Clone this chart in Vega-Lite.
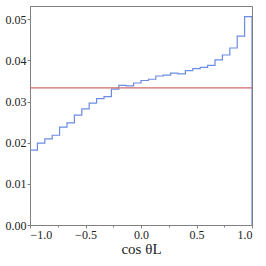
{
  "$schema": "https://vega.github.io/schema/vega-lite/v6.json",
  "width": 222,
  "height": 219,
  "autosize": "none",
  "padding": {"left": 30, "top": 6, "right": 14, "bottom": 41},
  "background": "white",
  "config": {
    "view": {"stroke": "#808080", "strokeWidth": 1},
    "font": "Liberation Serif",
    "axis": {
      "domainColor": "#808080",
      "tickColor": "#808080",
      "tickSize": 3,
      "grid": false,
      "labelPadding": 1
    }
  },
  "datasets": {
    "hist": [
      {"x": -1.0, "y": 0.0182},
      {"x": -0.9333, "y": 0.0199},
      {"x": -0.8667, "y": 0.0209},
      {"x": -0.8, "y": 0.0218},
      {"x": -0.7333, "y": 0.0238},
      {"x": -0.6667, "y": 0.0248},
      {"x": -0.6, "y": 0.0267},
      {"x": -0.5333, "y": 0.0282},
      {"x": -0.4667, "y": 0.0296},
      {"x": -0.4, "y": 0.0307},
      {"x": -0.3333, "y": 0.0312},
      {"x": -0.2667, "y": 0.0330},
      {"x": -0.2, "y": 0.0339},
      {"x": -0.1333, "y": 0.0338},
      {"x": -0.0667, "y": 0.0345},
      {"x": 0.0, "y": 0.0351},
      {"x": 0.0667, "y": 0.0354},
      {"x": 0.1333, "y": 0.0362},
      {"x": 0.2, "y": 0.0364},
      {"x": 0.2667, "y": 0.0369},
      {"x": 0.3333, "y": 0.0367},
      {"x": 0.4, "y": 0.0375},
      {"x": 0.4667, "y": 0.0380},
      {"x": 0.5333, "y": 0.0383},
      {"x": 0.6, "y": 0.0388},
      {"x": 0.6667, "y": 0.0401},
      {"x": 0.7333, "y": 0.0413},
      {"x": 0.8, "y": 0.0430},
      {"x": 0.8667, "y": 0.0459},
      {"x": 0.9333, "y": 0.0506},
      {"x": 1.0, "y": 0.0506},
      {"x": 1.0, "y": 0.0}
    ],
    "uniform": [{"y": 0.03333}],
    "minor": [{"x": -0.75}, {"x": -0.25}, {"x": 0.25}, {"x": 0.75}]
  },
  "layer": [
    {
      "data": {"name": "hist"},
      "mark": {"type": "line", "interpolate": "step-after", "color": "#6b8ce3", "strokeWidth": 1.2, "clip": true},
      "encoding": {
        "x": {
          "field": "x", "type": "quantitative",
          "scale": {"domain": [-1, 1], "nice": false, "zero": false},
          "axis": {"values": [-1, -0.5, 0, 0.5, 1], "labelExpr": "replace(format(datum.value, '.1f'), '-', '\u2212')", "labelFont": "Liberation Serif", "labelFontSize": 12, "labelColor": "#222", "title": "cos θL", "titleFont": "Liberation Serif", "titleFontSize": 15, "titleFontWeight": "normal", "titlePadding": 1, "titleColor": "#222"}
        },
        "y": {
          "field": "y", "type": "quantitative",
          "scale": {"domain": [0, 0.0532], "nice": false},
          "axis": {"values": [0, 0.01, 0.02, 0.03, 0.04, 0.05], "format": ".2f", "labelFont": "Liberation Serif", "labelFontSize": 12, "labelColor": "#222", "title": null}
        },
        "order": {"field": "x", "type": "quantitative"}
      }
    },
    {
      "data": {"name": "uniform"},
      "mark": {"type": "rule", "color": "#d06a6a", "strokeWidth": 1.2},
      "encoding": {"y": {"field": "y", "type": "quantitative"}}
    },
    {
      "data": {"name": "minor"},
      "mark": {"type": "point", "opacity": 0},
      "encoding": {
        "x": {
          "field": "x", "type": "quantitative",
          "axis": {"orient": "bottom", "values": [-0.75, -0.25, 0.25, 0.75], "labels": false, "domain": false, "tickSize": 2, "title": null}
        },
        "y": {"datum": 0, "type": "quantitative"}
      }
    }
  ],
  "resolve": {"axis": {"x": "independent"}}
}
